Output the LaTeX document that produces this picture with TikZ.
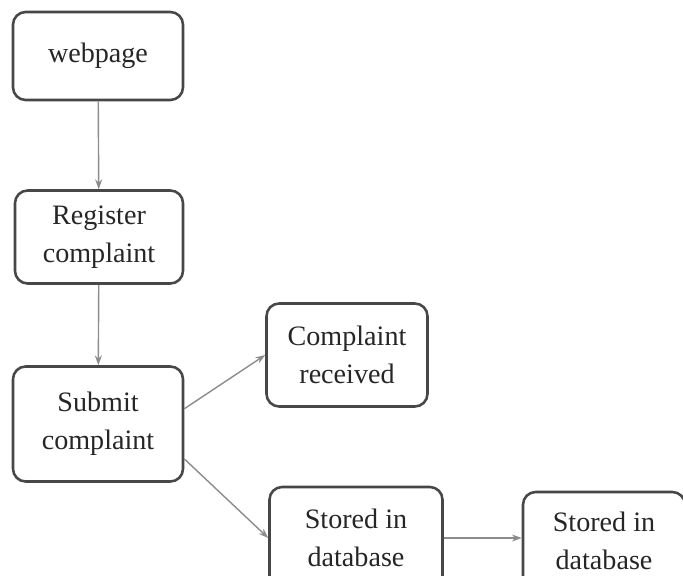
\documentclass[tikz,border=0pt]{standalone}
\usepackage{fontspec}
\setmainfont{Liberation Serif}
\usetikzlibrary{arrows.meta,positioning}

\tikzset{
  stepbox/.style={draw=black!72, line width=1.8pt, rounded corners=9pt, align=center,
    inner sep=0pt, text=black!85, font=\fontsize{20}{27}\selectfont},
  flow/.style={draw=black!45, line width=1pt, -{Stealth[length=7pt,width=5pt]}}
}

\begin{document}
\begin{tikzpicture}[x=0.025cm, y=-0.025cm]
    \useasboundingbox (0,0) rectangle (683,576);
    \clip (0,0) rectangle (683,576);
    % boxes: name/centre x/centre y/width/height/label
    \foreach \name/\cx/\cy/\w/\h/\txt in {
        web/98/56/170/88/{webpage},
        reg/99/237/168/93/{Register\\complaint},
        sub/98/424/170/115/{Submit\\complaint},
        rec/347/355/161/103/{Complaint\\received},
        sto/356/538/173/102/{Stored in\\database},
        sto2/604/541/162/98/{Stored in\\database}} {
        \node[stepbox, minimum width=\w*0.025cm, minimum height=\h*0.025cm] (\name) at (\cx,\cy) {\txt};
    }
    % connectors
    \draw[flow] (web) -- (reg);
    \draw[flow] (reg) -- (sub);
    \draw[flow] (sub.10) -- (rec.west);
    \draw[flow] (sub.-22) -- (sto.west);
    \draw[flow] (sto.east) -- (sto.east -| sto2.west);
\end{tikzpicture}
\end{document}
